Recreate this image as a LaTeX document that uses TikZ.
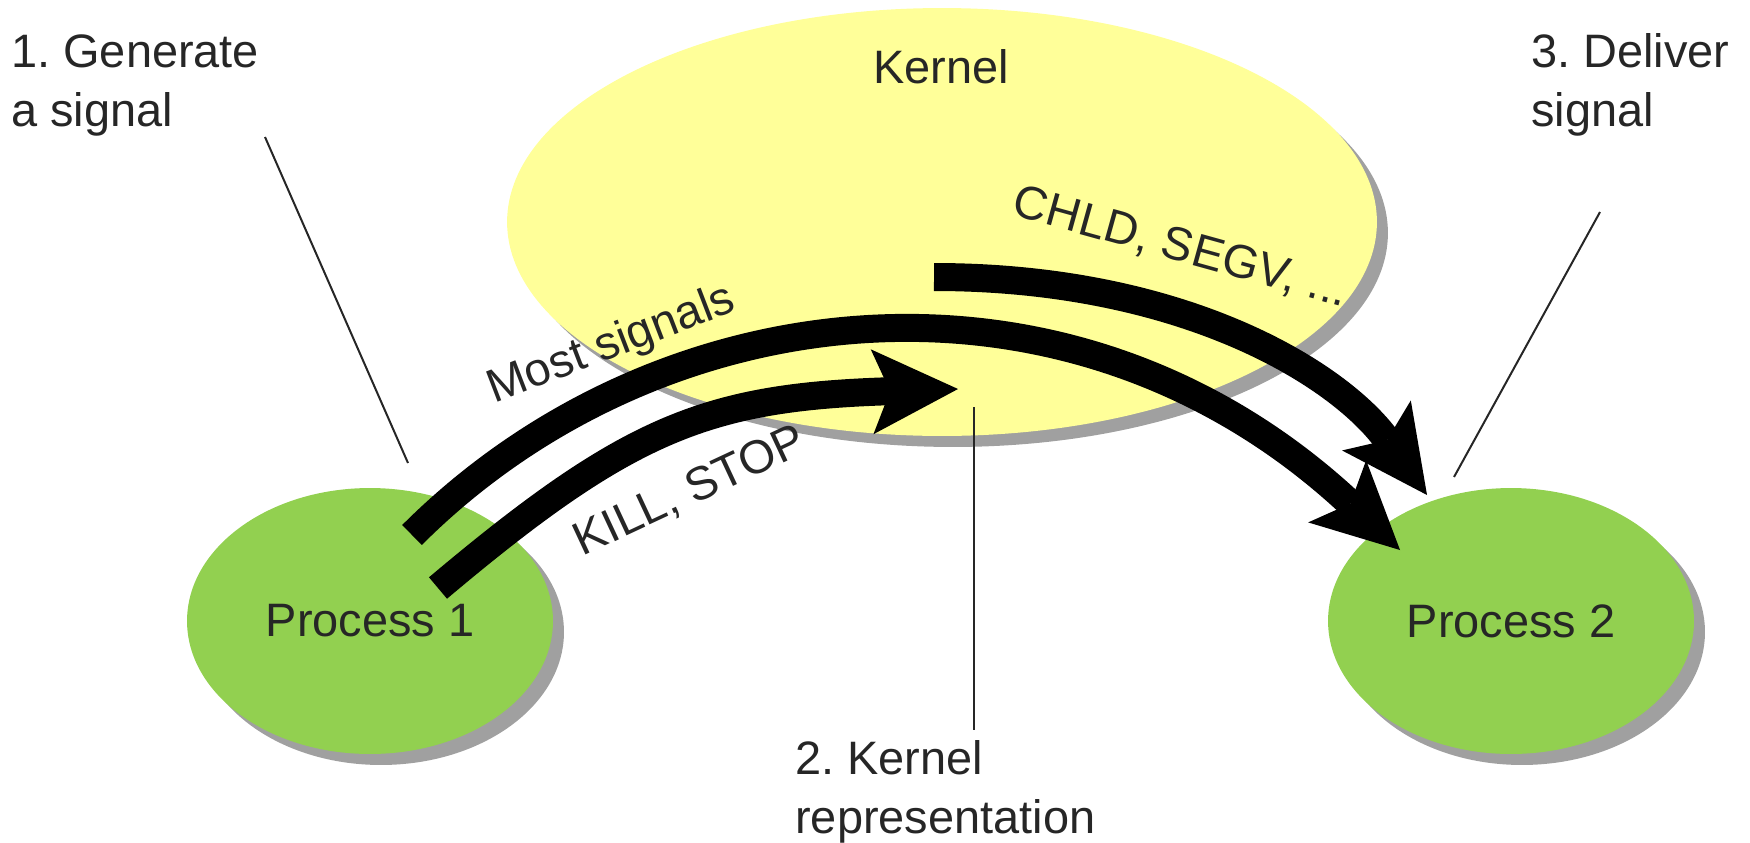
\documentclass[tikz,border=0pt]{standalone}
\usepackage{fontspec}
\setmainfont{Liberation Sans}
\usetikzlibrary{arrows.meta,shapes.geometric,shadows}
\definecolor{kyellow}{RGB}{255,255,153}
\definecolor{pgreen}{RGB}{146,208,80}
\definecolor{shadowgray}{RGB}{160,160,160}
\definecolor{txt}{RGB}{38,38,38}
\frenchspacing
\begin{document}
\begin{tikzpicture}[x=0.02cm,y=-0.02cm,
  lbl/.style={font=\fontsize{26.7}{33.6}\selectfont\frenchspacing, text=txt, inner sep=0pt},
  shad/.style={drop shadow={fill=shadowgray,opacity=1,shadow xshift=0.22cm,shadow yshift=-0.22cm}},
  blob/.style={ellipse, inner sep=0pt, minimum width=7.32cm, minimum height=5.32cm, fill=pgreen, shad, lbl},
  kernblob/.style={ellipse, inner sep=0pt, minimum width=17.4cm, minimum height=8.56cm, fill=kyellow, shad},
  sig/.style={line width=0.56cm, -{Stealth[length=1.72cm,width=1.7cm,inset=0.36cm,line width=0pt]}},
  lead/.style={line width=0.04cm, draw=txt}]
\useasboundingbox (0,0) rectangle (1750,842);

% ellipses
\node[kernblob] (kern) at (942,222) {};
\node[blob] (p1) at (370,621) {Process 1};
\node[blob] (p2) at (1511,621) {Process 2};

% labels
\node[lbl, anchor=base] (kernlbl) at (941,83) {Kernel};
\node[lbl, anchor=base west] (gen) at (11,67) {\begin{tabular}[t]{@{}l@{}}1. Generate\\a signal\end{tabular}};
\node[lbl, anchor=base west] (del) at (1531,67) {\begin{tabular}[t]{@{}l@{}}3. Deliver\\signal\end{tabular}};
\node[lbl, anchor=base west] (krep) at (795,774) {\begin{tabular}[t]{@{}l@{}}2. Kernel\\representation\end{tabular}};

\node[lbl, anchor=base, rotate=21] (most) at (616,357) {Most signals};
\node[lbl, anchor=base, rotate=25] (kill) at (696,504) {KILL, STOP};
\node[lbl, anchor=base, rotate=-15.5] (chld) at (1177,261) {CHLD, SEGV, ...};

% leader lines
\coordinate (l1a) at (265,137); \coordinate (l1b) at (408,463);
\coordinate (l2a) at (974,407); \coordinate (l2b) at (974,730);
\coordinate (l3a) at (1600,212); \coordinate (l3b) at (1454,477);
\draw[lead] (l1a) -- (l1b);
\draw[lead] (l2a) -- (l2b);
\draw[lead] (l3a) -- (l3b);

% signal arrows
\coordinate (a1s) at (412,535); \coordinate (a1e) at (1400,550);
\coordinate (a2s) at (438,588); \coordinate (a2e) at (958,389);
\coordinate (a3s) at (934,277); \coordinate (a3e) at (1427,495);
\draw[sig] (a1s) .. controls (659,288) and (1071,243) .. (a1e);
\draw[sig] (a2s) .. controls (629,427) and (708,397) .. (a2e);
\draw[sig] (a3s) .. controls (1184,277) and (1339,374) .. (a3e);
\end{tikzpicture}
\end{document}
